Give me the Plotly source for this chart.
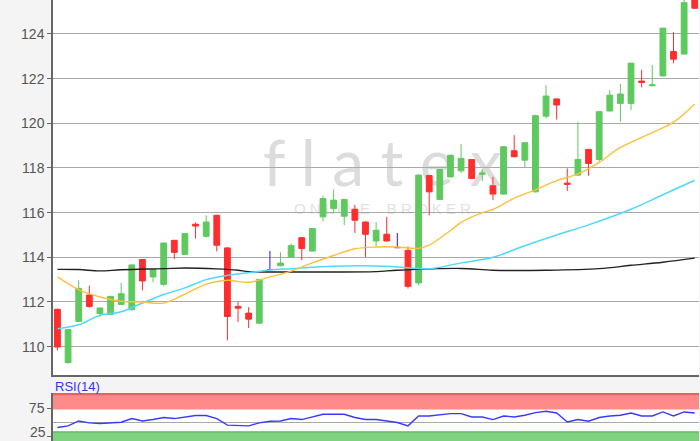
import plotly.graph_objects as go

# Trading sessions, left to right
sessions = list(range(61))

opens = [111.67, 109.28, 111.13, 112.31, 111.48, 111.44, 111.89, 111.65, 113.90, 113.12,
         112.79, 114.76, 114.13, 115.48, 114.94, 115.88, 114.42, 111.80, 111.50, 111.05,
         113.45, 113.62, 114.01, 114.88, 114.28, 115.81, 116.18, 115.84, 116.15, 115.58,
         114.73, 115.03, 114.43, 114.31, 112.85, 117.66, 116.59, 117.60, 117.87, 118.38,
         117.72, 117.20, 116.83, 118.77, 118.35, 116.93, 120.32, 121.09, 117.32, 117.68,
         118.83, 118.38, 120.55, 120.89, 120.89, 121.89, 121.68, 122.12, 123.21, 123.10,
         125.90]
highs = [111.70, 110.78, 112.97, 112.73, 111.75, 112.28, 112.85, 113.68, 113.92, 113.48,
         114.66, 114.78, 115.08, 115.56, 115.88, 115.90, 114.45, 112.01, 111.77, 113.03,
         114.28, 114.22, 114.61, 114.90, 115.31, 116.74, 117.04, 116.61, 116.33, 115.60,
         115.58, 115.81, 115.09, 114.49, 117.70, 117.70, 117.95, 118.59, 119.07, 118.40,
         117.93, 117.60, 118.97, 119.47, 119.15, 120.36, 121.71, 121.11, 117.98, 120.07,
         118.85, 120.54, 121.49, 121.76, 122.71, 122.39, 122.61, 124.28, 124.08, 125.60,
         126.00]
lows = [109.83, 109.25, 111.10, 111.74, 111.32, 111.42, 111.86, 111.62, 112.52, 112.88,
        112.70, 113.92, 114.11, 114.84, 114.88, 114.27, 110.28, 111.10, 110.83, 111.03,
        113.42, 113.60, 113.99, 113.87, 114.26, 115.61, 115.96, 115.44, 115.09, 114.01,
        114.49, 114.71, 114.40, 112.60, 112.74, 115.88, 116.57, 117.58, 117.78, 117.50,
        117.42, 116.56, 116.81, 118.48, 118.02, 116.91, 120.22, 120.17, 116.97, 117.65,
        117.65, 118.29, 120.53, 120.07, 120.59, 121.61, 121.66, 122.10, 122.69, 123.08,
        125.13]
closes = [109.98, 110.76, 112.61, 111.80, 111.73, 112.25, 112.37, 113.66, 112.94, 113.45,
          114.64, 114.22, 115.06, 115.40, 115.58, 114.54, 111.35, 111.72, 111.23, 113.01,
          113.45, 113.74, 114.52, 114.39, 115.29, 116.63, 116.56, 116.59, 115.66, 115.03,
          115.21, 114.73, 114.43, 112.70, 117.68, 116.93, 117.93, 118.57, 118.43, 117.53,
          117.77, 116.83, 118.95, 118.50, 119.13, 120.34, 121.22, 120.82, 117.27, 118.38,
          118.20, 120.52, 121.26, 121.31, 122.69, 121.83, 121.72, 124.26, 122.87, 125.40,
          125.15]

# sessions shown as purple doji bars
doji_sessions = [20, 32]

# moving averages, read at selected sessions
ma_fast_sessions = [0, 2, 4, 6, 8, 10, 12, 14, 16, 18, 20, 22, 24, 26, 28, 30, 32, 34, 35,
                    37, 38, 40, 41, 43, 45, 47, 49, 51, 53, 56, 58, 60]
ma_fast = [113.12, 112.55, 112.22, 112.03, 112.00, 111.95, 112.35, 112.80, 112.97, 112.88,
           113.12, 113.38, 113.75, 114.08, 114.38, 114.46, 114.46, 114.40, 114.54, 115.20,
           115.56, 116.00, 116.14, 116.65, 117.02, 117.43, 117.73, 118.25, 118.92, 119.58,
           120.05, 120.86]

ma_slow_sessions = [0, 2, 4, 6, 8, 10, 12, 14, 16, 18, 20, 22, 26, 30, 32, 35, 38, 41, 44,
                    47, 50, 54, 57, 60]
ma_slow = [110.80, 110.98, 111.40, 111.56, 111.95, 112.33, 112.63, 113.00, 113.19, 113.31,
           113.43, 113.49, 113.60, 113.61, 113.57, 113.49, 113.75, 114.00, 114.52, 115.00,
           115.45, 116.15, 116.80, 117.45]

ma_long_sessions = [0, 2, 4, 6, 10, 12, 15, 17, 18, 21, 25, 30, 32, 38, 41, 46, 51, 54, 57, 60]
ma_long = [113.46, 113.45, 113.39, 113.44, 113.49, 113.52, 113.48, 113.42, 113.36, 113.34,
           113.34, 113.36, 113.42, 113.50, 113.42, 113.42, 113.49, 113.64, 113.78, 113.96]

rsi_values = [41.4, 44.2, 52.7, 49.3, 48.3, 49.3, 50.5, 56.8, 52.7, 55.1,
              58.6, 56.8, 59.6, 62.0, 62.0, 56.8, 45.4, 44.5, 44.2, 49.3,
              52.2, 52.7, 56.8, 55.1, 59.6, 64.2, 64.2, 64.2, 58.6, 55.1,
              55.1, 52.5, 50.0, 44.2, 61.3, 61.3, 63.7, 65.4, 65.4, 59.6,
              59.6, 55.1, 61.3, 59.6, 62.5, 67.1, 69.3, 66.4, 51.0, 55.1,
              52.2, 58.6, 61.3, 62.5, 66.4, 61.3, 61.3, 68.2, 61.3, 68.2,
              66.4]

price_ticks = [110, 112, 114, 116, 118, 120, 122, 124]

green = '#5ec95e'
red = '#ff2e2e'
purple = '#5a35d8'
tick_font = dict(family='Liberation Sans, Arial', size=14, color='#555555')

fig = go.Figure()

main_x = [s for s in sessions if s not in doji_sessions]
fig.add_trace(go.Candlestick(
    x=main_x,
    open=[opens[s] for s in main_x],
    high=[highs[s] for s in main_x],
    low=[lows[s] for s in main_x],
    close=[closes[s] for s in main_x],
    increasing=dict(line=dict(color=green, width=1), fillcolor=green),
    decreasing=dict(line=dict(color=red, width=1), fillcolor=red),
    whiskerwidth=0,
    showlegend=False,
))

fig.add_trace(go.Candlestick(
    x=doji_sessions,
    open=[opens[s] for s in doji_sessions],
    high=[highs[s] for s in doji_sessions],
    low=[lows[s] for s in doji_sessions],
    close=[closes[s] for s in doji_sessions],
    increasing=dict(line=dict(color=purple, width=1.2), fillcolor=purple),
    decreasing=dict(line=dict(color=purple, width=1.2), fillcolor=purple),
    whiskerwidth=0,
    showlegend=False,
))

# Moving averages
fig.add_trace(go.Scatter(x=ma_long_sessions, y=ma_long, mode='lines',
                         line=dict(color='#222222', width=1.4, shape='spline'),
                         showlegend=False))
fig.add_trace(go.Scatter(x=ma_slow_sessions, y=ma_slow, mode='lines',
                         line=dict(color='#4fd8ff', width=1.5, shape='spline'),
                         showlegend=False))
fig.add_trace(go.Scatter(x=ma_fast_sessions, y=ma_fast, mode='lines',
                         line=dict(color='#ffbf3c', width=1.4, shape='spline'),
                         showlegend=False))

# RSI panel
fig.add_trace(go.Scatter(x=sessions, y=rsi_values, mode='lines',
                         line=dict(color='#3a3aff', width=1.4),
                         xaxis='x2', yaxis='y2', showlegend=False))

x_range = [-0.42, 60.4]

fig.update_layout(
    width=700,
    height=441,
    margin=dict(l=53, r=1, t=0, b=0),
    paper_bgcolor='#f4f4f4',
    plot_bgcolor='#ffffff',
    showlegend=False,
    boxgap=0.22,
    xaxis=dict(
        domain=[0, 1], range=x_range, anchor='y',
        showticklabels=False, showgrid=False, zeroline=False,
        showline=True, linecolor='#666666', linewidth=1.5,
        rangeslider=dict(visible=False),
    ),
    yaxis=dict(
        domain=[0.1497, 1], range=[108.73, 125.52],
        tickvals=price_ticks, ticks='outside', ticklen=4, tickcolor='#666666',
        tickfont=tick_font, gridcolor='#aaaaaa', gridwidth=1.2, zeroline=False,
        showline=True, linecolor='#666666', linewidth=1.5,
    ),
    xaxis2=dict(
        domain=[0, 1], range=x_range, anchor='y2',
        showticklabels=False, showgrid=False, zeroline=False,
        showline=False,
    ),
    yaxis2=dict(
        domain=[0, 0.1088], range=[18.1, 100.9],
        tickvals=[25, 75], ticktext=['', '75'],
        ticks='outside', ticklen=4, tickcolor='#666666',
        tickfont=tick_font, showgrid=False, zeroline=False,
        showline=True, linecolor='#666666', linewidth=1.5,
    ),
    shapes=[
        # overbought / oversold bands
        dict(type='rect', xref='x2 domain', yref='y2', x0=0, x1=1, y0=72.5, y1=100.9,
             fillcolor='#ff8a8a', line=dict(width=0), layer='below'),
        dict(type='line', xref='x2 domain', yref='y2', x0=0, x1=1, y0=99.5, y1=99.5,
             line=dict(color='#e06666', width=3), layer='below'),
        dict(type='rect', xref='x2 domain', yref='y2', x0=0, x1=1, y0=18.1, y1=34,
             fillcolor='#7fd27f', line=dict(width=0), layer='below'),
        dict(type='line', xref='x2 domain', yref='y2', x0=0, x1=1, y0=33.5, y1=33.5,
             line=dict(color='#66bb66', width=1.5), layer='below'),
        dict(type='line', xref='x2 domain', yref='y2', x0=0, x1=1, y0=50, y1=50,
             line=dict(color='#aaaaaa', width=1.2), layer='below'),
        # watermark
        dict(type='rect', xref='paper', yref='paper', x0=0.30, x1=0.72, y0=0.58, y1=0.69,
             line=dict(width=0), fillcolor='rgba(0,0,0,0)', layer='below',
             label=dict(text='f l a t e x', textposition='middle center',
                        font=dict(family='Lato', size=64, color='#dcdcdc'))),
        dict(type='rect', xref='paper', yref='paper', x0=0.30, x1=0.72, y0=0.51, y1=0.55,
             line=dict(width=0), fillcolor='rgba(0,0,0,0)', layer='below',
             label=dict(text='O N L I N E    B R O K E R', textposition='middle center',
                        font=dict(family='Liberation Sans', size=15, color='#e2e2e2'))),
    ],
    annotations=[
        dict(text='RSI(14)', xref='paper', yref='paper', x=0, y=0.124,
             xanchor='left', yanchor='middle', showarrow=False,
             font=dict(family='Liberation Sans, Arial', size=13, color='#3333ff')),
        # lowest RSI label sits on the bottom edge of the window
        dict(text='25', xref='paper', yref='paper', x=0, y=0, xshift=-6,
             xanchor='right', yanchor='bottom', showarrow=False, borderpad=0,
             font=tick_font),
    ],
)

# the page body has a default margin; drop it so the figure sits at the window corner
fig.write_html("out.html", config={'displayModeBar': False},
               post_script="document.body.style.margin='0';")
